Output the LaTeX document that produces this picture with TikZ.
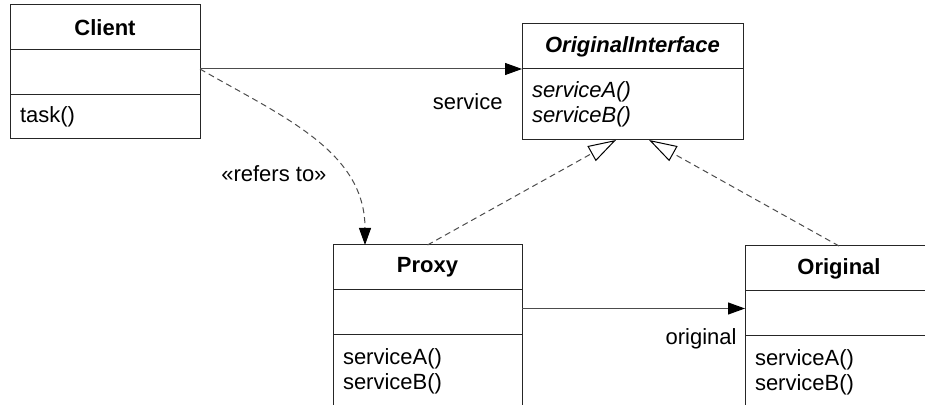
\documentclass[tikz,border=0pt]{standalone}
\usepackage{fontspec}
\setmainfont{Liberation Sans}
\usetikzlibrary{positioning,arrows.meta}

\begin{document}
\begin{tikzpicture}[x=0.5pt, y=-0.5pt, node distance=0pt,
  box/.style={draw=black!85, fill=white, line width=0.5pt, outer sep=0pt,
    inner xsep=5pt, inner ysep=0pt, font=\fontsize{11}{12.5}\selectfont},
  head/.style={box, minimum width=#1, minimum height=22.5pt,
    font=\fontsize{11}{12.5}\selectfont\bfseries},
  part/.style={box, text width=#1, align=left, minimum height=22.5pt},
  lbl/.style={inner sep=0pt, font=\fontsize{11}{12.5}\selectfont},
  assoc/.style={draw=black!70, line width=0.5pt, -{Triangle[length=8.5pt, width=6pt, color=black]}},
  refers/.style={assoc, dash pattern=on 3pt off 2pt},
  realize/.style={draw=black!70, line width=0.5pt, dash pattern=on 3pt off 2pt,
    -{Triangle[length=14pt, width=8.5pt, fill=white, color=black]}}]
  \useasboundingbox (0,0) rectangle (925,405);
  \clip (0,0) rectangle (925,405);
  \node(client)[head=95pt, anchor=north west] at (10,5) {Client};
  \node(clientattr)[part=85pt, below=of client] {};
  \node(clientops)[part=85pt, below=of clientattr, minimum height=22pt] {task()};
  \node(ifhead)[head=110.5pt, anchor=north west, font=\fontsize{11}{12.5}\selectfont\bfseries\itshape] at (522,24) {OriginalInterface};
  \node(ifops)[part=100.5pt, below=of ifhead, minimum height=35.5pt, font=\fontsize{11}{12.5}\selectfont\itshape] {serviceA()\\serviceB()};
  \node(proxyhead)[head=94.5pt, anchor=north west] at (333,245) {Proxy};
  \node(proxyattr)[part=84.5pt, below=of proxyhead] {};
  \node(proxyops)[part=84.5pt, below=of proxyattr, minimum height=36pt] {serviceA()\\serviceB()};
  \node(orighead)[head=94pt, anchor=north west] at (745,246) {Original};
  \node(origattr)[part=84pt, below=of orighead] {};
  \node(origops)[part=84pt, below=of origattr, minimum height=36pt] {serviceA()\\serviceB()};
  \draw[assoc] (clientattr.east |- ifhead.south) -- (ifhead.south west)
    node[lbl, pos=1, anchor=base east, xshift=-9.5pt, yshift=-20.5pt] {service};
  \draw[refers] (clientattr.east |- ifhead.south) to[out=-30, in=90]
    node[lbl, pos=1, anchor=base east, xshift=-19pt, yshift=31.5pt] {«refers to»}
    ([xshift=16pt]proxyhead.north west);
  \draw[assoc] ([yshift=2pt]proxyattr.east) -- ([yshift=2pt]proxyattr.east -| origattr.west)
    node[lbl, pos=1, anchor=base east, xshift=-4pt, yshift=-18pt] {original};
  \draw[realize] (proxyhead.north) -- ([xshift=-8.25pt]ifops.south);
  \draw[realize] (orighead.north) -- ([xshift=8.25pt]ifops.south);
  \end{tikzpicture}
\end{document}
